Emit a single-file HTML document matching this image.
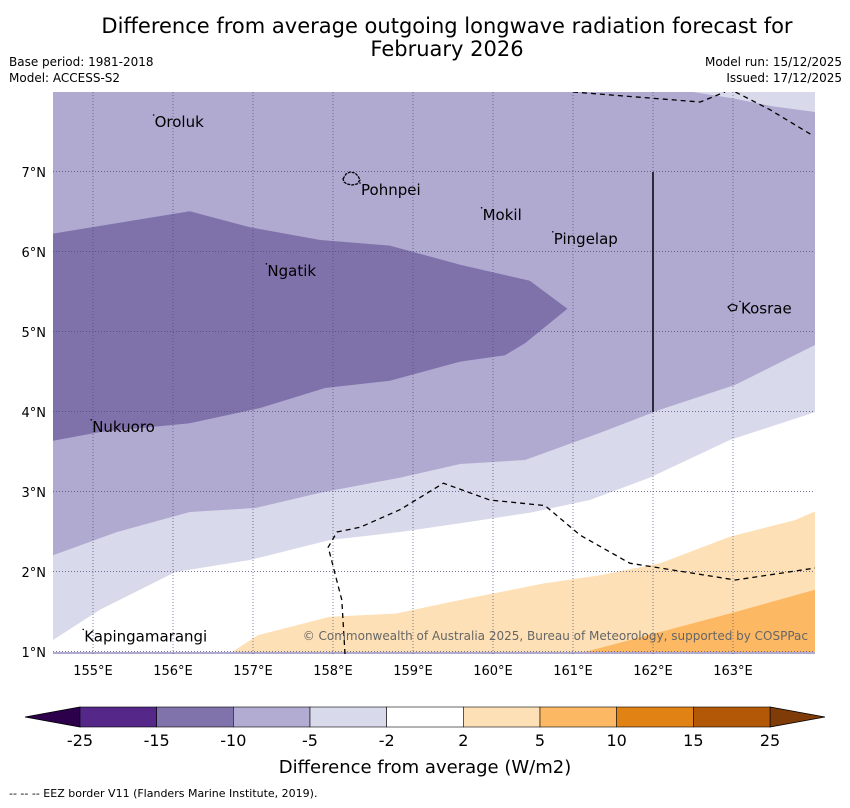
<!DOCTYPE html>
<html><head><meta charset="utf-8"><style>
body{margin:0;background:#fff;font-family:"DejaVu Sans","Liberation Sans",sans-serif;}
svg text{font-family:"DejaVu Sans","Liberation Sans",sans-serif;}
</style></head><body>
<svg id="chart" width="850" height="804" xmlns="http://www.w3.org/2000/svg">
<text x="447" y="33" font-size="21" text-anchor="middle">Difference from average outgoing longwave radiation forecast for</text>
<text x="447" y="56" font-size="21" text-anchor="middle">February 2026</text>
<text x="9" y="66" font-size="12">Base period: 1981-2018</text>
<text x="9" y="82" font-size="12">Model: ACCESS-S2</text>
<text x="842" y="66" font-size="12" text-anchor="end">Model run: 15/12/2025</text>
<text x="842" y="82" font-size="12" text-anchor="end">Issued: 17/12/2025</text>
<defs><clipPath id="mapclip"><rect x="53" y="92" width="762" height="562"/></clipPath></defs>
<g id="map" clip-path="url(#mapclip)"></g>
<g id="overlay"></g>
<g id="cbar"></g>
<text x="425" y="773" font-size="18" text-anchor="middle">Difference from average (W/m2)</text>
<text x="9" y="797" font-size="11">--  --  -- EEZ border V11 (Flanders Marine Institute, 2019).</text>
</svg>
<script>
const lonTicks=[155,156,157,158,159,160,161,162,163];
const latTicks=[1,2,3,4,5,6,7];
const darkPurpleLon=[154.5,156.21,156.96,157.84,158.71,159.59,160.46,160.93,160.4,160.15,159.59,158.71,157.9,157.09,156.21,155.09,154.5];
const darkPurpleLat=[6.23,6.51,6.31,6.15,6.08,5.84,5.64,5.29,4.86,4.71,4.63,4.39,4.3,4.05,3.86,3.75,3.64];
const contourAlon=[154.5,155.3,156.21,157.03,157.84,158.84,159.59,160.4,161.34,162.09,163.03,164.03];
const contourAlat=[2.21,2.5,2.75,2.8,2.99,3.18,3.35,3.4,3.74,4.03,4.34,4.84];
const contourBlon=[154.5,155.09,156.03,156.96,157.96,158.84,159.59,160.46,161.21,161.96,162.96,164.03];
const contourBlat=[1.15,1.53,2.0,2.15,2.4,2.5,2.61,2.74,2.9,3.18,3.65,4.0];
const orange1Lon=[156.74,157.06,157.96,158.78,159.59,160.65,161.34,162.09,162.96,163.78,164.03];
const orange1Lat=[1.0,1.21,1.44,1.48,1.65,1.86,1.96,2.11,2.44,2.65,2.76];
const orange2Lon=[161.15,163.03,164.03];
const orange2Lat=[1.0,1.5,1.78];
const topLightLon=[162.5,163.0,163.5,164.03];
const topLightLat=[8.0,7.92,7.82,7.75];
const eezTopLon=[161.0,162.59,162.9];
const eezTopLat=[8.0,7.875,8.0];
const eezTop2Lon=[163.03,163.46,163.99];
const eezTop2Lat=[8.0,7.78,7.46];
const eezSouthLon=[158.15,158.11,157.94,158.05,158.34,158.84,159.38,159.96,160.65,161.09,161.71,163.03,164.03];
const eezSouthLat=[0.975,1.65,2.31,2.5,2.56,2.78,3.11,2.9,2.83,2.46,2.11,1.9,2.05];
const placeNames=["Oroluk","Pohnpei","Mokil","Pingelap","Ngatik","Kosrae","Nukuoro","Kapingamarangi"];
const placeLon=[155.77,158.35,159.87,160.76,157.18,163.1,154.99,154.89];
const placeLat=[7.65,6.8,6.49,6.19,5.79,5.32,3.84,1.22];
const cbarBounds=["-25","-15","-10","-5","-2","2","5","10","15","25"];
const cbarColors=["#542788","#8073ac","#b2abd2","#d8daeb","#ffffff","#fee0b6","#fdb863","#e08214","#b35806"];

const X=lon=>53+(lon-154.5)*80;
const Y=lat=>92+(8-lat)*80;
const NS="http://www.w3.org/2000/svg";
function mk(tag,attrs,parent){const e=document.createElementNS(NS,tag);for(const k in attrs)e.setAttribute(k,attrs[k]);parent.appendChild(e);return e;}
const map=document.getElementById('map');
const ov=document.getElementById('overlay');
function pts(lons,lats){return lons.map((l,i)=>X(l)+','+Y(lats[i])).join(' ');}

let bg=mk('rect',{x:53,y:92,width:762,height:562,fill:'#b0a9d0'},map);


let tl=mk('polygon',{points:pts(topLightLon,topLightLat)+' '+X(164.03)+','+Y(8),fill:'#d8d9ea'},map);


let la=mk('polygon',{points:pts(contourAlon,contourAlat)+' '+X(164.03)+','+Y(1)+' '+X(154.5)+','+Y(1),fill:'#d8d9ea'},map);


let wb=mk('polygon',{points:pts(contourBlon,contourBlat)+' '+X(164.03)+','+Y(1)+' '+X(154.5)+','+Y(1),fill:'#ffffff'},map);


let o1=mk('polygon',{points:pts(orange1Lon,orange1Lat)+' '+X(164.03)+','+Y(1),fill:'#fde0b6'},map);


let o2=mk('polygon',{points:pts(orange2Lon,orange2Lat)+' '+X(164.03)+','+Y(1),fill:'#fdb863'},map);


let dp=mk('polygon',{points:pts(darkPurpleLon,darkPurpleLat),fill:'#7f72aa'},map);



lonTicks.forEach(l=>{
  let g=mk('line',{x1:X(l),x2:X(l),y1:92,y2:654,stroke:'#4a4a7a','stroke-width':0.7,'stroke-dasharray':'1,2'},ov);
  
  
  let t=mk('text',{x:X(l),y:675,'font-size':13,'text-anchor':'middle'},ov);t.textContent=l+'°E';
  
  
});
latTicks.forEach(l=>{
  let g=mk('line',{x1:53,x2:815,y1:Y(l)-0.5,y2:Y(l)-0.5,stroke:'#4a4a7a','stroke-width':0.7,'stroke-dasharray':'1,2'},ov);
  
  
  let t=mk('text',{x:46,y:Y(l)+5,'font-size':13,'text-anchor':'end'},ov);t.textContent=l+'°N';
  
  
});
function eez(lons,lats){let p=mk('polyline',{points:pts(lons,lats),fill:'none',stroke:'#000','stroke-width':1.3,'stroke-dasharray':'5,4','clip-path':'url(#mapclip)'},ov);
  
  }
eez(eezTopLon,eezTopLat);eez(eezTop2Lon,eezTop2Lat);eez(eezSouthLon,eezSouthLat);
let vl=mk('line',{x1:X(162),x2:X(162),y1:Y(7),y2:Y(4),stroke:'#000','stroke-width':1.5},ov);


let pi=mk('path',{d:'M343,179 l3,-5 l4,-2 l5,1 l3,3 l2,4 l-3,4 l-5,1 l-5,-1 l-3,-2z',fill:'none',stroke:'#000','stroke-width':1.3,'stroke-dasharray':'3,1'},ov);


let ki=mk('path',{d:'M728,307 l4,-3 l5,2 l-1,4 l-5,1z',fill:'none',stroke:'#000','stroke-width':1.2},ov);


placeNames.forEach((n,i)=>{
  let t=mk('text',{x:X(placeLon[i]),y:Y(placeLat[i])+7,'font-size':15},ov);t.textContent=n;
  
  
  let d=mk('circle',{cx:X(placeLon[i])-1,cy:Y(placeLat[i])-5,r:0.8,fill:'#000'},ov);
  
  
});
let cp=mk('text',{x:808,y:640,'font-size':12,'text-anchor':'end',fill:'#666'},ov);
cp.textContent='© Commonwealth of Australia 2025, Bureau of Meteorology, supported by COSPPac';



const cb=document.getElementById('cbar');
const cx0=80,cw=(770-80)/cbarColors.length,cy=707,ch=20;
let lt=mk('polygon',{points:`${cx0},${cy} ${cx0},${cy+ch} 25,${cy+ch/2}`,fill:'#2d004b',stroke:'#000','stroke-width':0.8},cb);


let rt=mk('polygon',{points:`770,${cy} 770,${cy+ch} 825,${cy+ch/2}`,fill:'#7f3b08',stroke:'#000','stroke-width':0.8},cb);


cbarColors.forEach((c,i)=>{
  let r=mk('rect',{x:cx0+i*cw,y:cy,width:cw,height:ch,fill:c,stroke:'#000','stroke-width':0.6},cb);
  
  
});
cbarBounds.forEach((b,i)=>{
  let t=mk('text',{x:cx0+i*cw,y:746,'font-size':16,'text-anchor':'middle'},cb);t.textContent=b;
  
  
});
</script>
</body></html>
